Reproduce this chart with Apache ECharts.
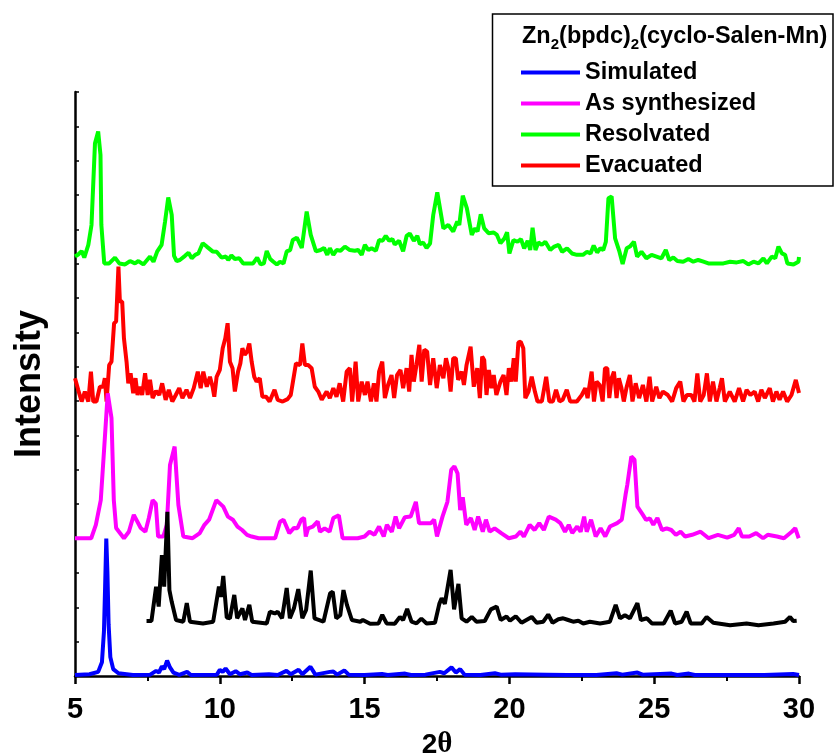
<!DOCTYPE html>
<html>
<head>
<meta charset="utf-8">
<title>PXRD Zn2(bpdc)2(cyclo-Salen-Mn)</title>
<script src="https://cdn.jsdelivr.net/npm/echarts@6.0.0/dist/echarts.min.js"></script>
<style>
  html, body { margin: 0; padding: 0; background: #fff; }
  #main { width: 835px; height: 755px; }
</style>
</head>
<body>
<div id="main"></div>
<script>
// 2theta vs stacked intensity (arbitrary units, curves offset)
var xTicks = [5, 10, 15, 20, 25, 30];
var legendNames = ['Simulated', 'As synthesized', 'Resolvated', 'Evacuated'];

var simulated = [[5.0,0.03],[5.5,0.05],[5.8,0.12],[5.93,0.4],[6.0,1.3],[6.04,2.6],[6.08,4.0],[6.12,3.0],[6.16,1.5],[6.22,0.55],[6.32,0.2],[6.5,0.08],[7.0,0.03],[7.6,0.04],[7.8,0.15],[7.9,0.1],[8.0,0.28],[8.08,0.2],[8.18,0.45],[8.28,0.25],[8.4,0.1],[8.6,0.03],[8.87,0.12],[9.0,0.03],[9.9,0.04],[10.0,0.18],[10.1,0.12],[10.2,0.22],[10.35,0.05],[10.55,0.14],[10.7,0.05],[10.95,0.1],[11.1,0.03],[11.7,0.05],[12.0,0.03],[12.3,0.15],[12.45,0.05],[12.72,0.18],[12.85,0.05],[13.13,0.27],[13.3,0.04],[13.8,0.12],[13.92,0.13],[14.05,0.04],[14.3,0.16],[14.45,0.04],[15.0,0.03],[15.6,0.06],[15.8,0.03],[16.4,0.07],[16.6,0.03],[17.1,0.04],[17.6,0.12],[17.75,0.08],[18.0,0.25],[18.15,0.1],[18.3,0.2],[18.45,0.04],[19.0,0.03],[19.5,0.08],[19.7,0.04],[20.2,0.05],[21.3,0.04],[22.0,0.03],[23.0,0.03],[23.7,0.08],[23.9,0.04],[24.42,0.1],[24.6,0.04],[25.6,0.07],[25.8,0.03],[26.2,0.07],[26.4,0.03],[27.5,0.03],[28.8,0.03],[29.8,0.06],[30.0,0.03]];

// black trace (no legend entry)
var reference = [[7.47,1.60],[7.64,1.60],[7.80,2.60],[7.89,2.02],[8.0,3.52],[8.08,2.60],[8.19,4.78],[8.26,2.50],[8.34,2.16],[8.49,1.63],[8.74,1.58],[8.86,2.12],[8.97,1.58],[9.42,1.53],[9.77,1.58],[9.97,2.60],[10.04,2.30],[10.12,2.91],[10.24,1.70],[10.35,1.68],[10.5,2.36],[10.6,1.68],[10.78,1.97],[10.87,1.63],[11.02,2.07],[11.12,1.58],[11.62,1.53],[11.73,1.87],[11.9,1.82],[12.0,1.87],[12.15,1.68],[12.31,2.56],[12.42,1.68],[12.56,1.97],[12.71,2.53],[12.85,1.68],[12.98,1.92],[13.14,3.07],[13.27,1.68],[13.58,1.58],[13.81,2.41],[13.9,2.45],[14.02,1.68],[14.16,1.77],[14.27,2.50],[14.39,2.07],[14.56,1.63],[14.85,1.58],[14.94,1.63],[15.19,1.52],[15.48,1.53],[15.61,1.78],[15.76,1.53],[16.04,1.52],[16.22,1.72],[16.33,1.63],[16.47,1.95],[16.62,1.58],[16.79,1.53],[16.96,1.67],[17.14,1.53],[17.43,1.55],[17.58,2.1],[17.66,2.26],[17.77,2.1],[17.97,3.09],[18.09,1.94],[18.24,2.68],[18.35,1.68],[18.52,1.58],[18.7,1.72],[18.86,1.58],[19.15,1.60],[19.36,1.94],[19.56,2.02],[19.7,1.63],[19.9,1.73],[20.02,1.61],[20.22,1.74],[20.42,1.55],[20.77,1.72],[20.94,1.55],[21.17,1.58],[21.34,1.79],[21.49,1.55],[21.69,1.65],[21.86,1.68],[22.03,1.63],[22.2,1.58],[22.38,1.61],[22.55,1.53],[22.78,1.58],[23.13,1.53],[23.47,1.58],[23.67,2.07],[23.82,1.68],[23.99,1.77],[24.16,1.68],[24.42,2.12],[24.54,1.63],[24.75,1.68],[24.92,1.53],[25.33,1.53],[25.57,1.90],[25.72,1.53],[25.95,1.58],[26.12,1.87],[26.26,1.53],[26.64,1.53],[26.81,1.72],[27.04,1.55],[27.62,1.48],[28.19,1.53],[28.6,1.48],[29.12,1.53],[29.52,1.58],[29.69,1.72],[29.8,1.6],[29.92,1.61]];

var asSynthesized = [[5.0,4.01],[5.56,4.01],[5.72,4.4],[5.89,5.12],[6.0,6.53],[6.13,8.23],[6.26,7.51],[6.34,5.12],[6.42,4.31],[6.69,4.01],[6.86,4.2],[7.03,4.69],[7.27,4.31],[7.43,4.2],[7.55,4.6],[7.68,5.12],[7.79,5.02],[7.87,4.06],[8.05,4.06],[8.17,4.4],[8.28,6.14],[8.44,6.68],[8.57,4.98],[8.74,4.06],[9.06,4.01],[9.31,4.16],[9.47,4.4],[9.63,4.55],[9.88,5.12],[10.12,4.93],[10.28,4.64],[10.45,4.55],[10.61,4.35],[10.77,4.25],[10.94,4.11],[11.1,4.06],[11.34,4.01],[11.91,4.01],[12.08,4.49],[12.2,4.55],[12.4,4.16],[12.56,4.31],[12.68,4.30],[12.81,4.55],[12.91,4.6],[12.97,4.06],[13.05,4.30],[13.21,4.35],[13.38,4.5],[13.46,4.2],[13.62,4.30],[13.79,4.2],[13.92,4.6],[14.11,4.68],[14.24,4.01],[14.76,4.01],[15.0,4.06],[15.17,4.2],[15.34,4.11],[15.5,4.35],[15.66,4.06],[15.77,4.4],[15.94,4.2],[16.07,4.64],[16.19,4.3],[16.39,4.62],[16.59,4.64],[16.77,5.07],[16.88,4.45],[17.29,4.45],[17.4,4.55],[17.5,4.06],[17.69,4.64],[17.86,5.07],[17.99,6.0],[18.1,6.1],[18.21,5.9],[18.3,4.83],[18.39,5.2],[18.51,4.4],[18.67,4.6],[18.8,4.25],[18.92,4.64],[19.08,4.2],[19.19,4.55],[19.32,4.2],[19.49,4.3],[19.73,4.15],[19.98,4.01],[20.22,4.06],[20.38,4.2],[20.5,4.06],[20.7,4.4],[20.87,4.25],[21.03,4.45],[21.19,4.25],[21.36,4.64],[21.6,4.55],[21.76,4.45],[21.92,4.2],[22.05,4.4],[22.17,4.16],[22.34,4.35],[22.46,4.2],[22.58,4.64],[22.67,4.2],[22.82,4.55],[22.98,4.06],[23.15,4.3],[23.31,4.06],[23.47,4.35],[23.72,4.45],[23.88,4.55],[24.01,5.27],[24.07,5.56],[24.21,6.39],[24.32,6.3],[24.42,4.93],[24.61,4.69],[24.72,4.54],[24.85,4.59],[24.97,4.4],[25.11,4.6],[25.27,4.25],[25.43,4.3],[25.59,4.25],[25.75,4.11],[25.91,4.2],[26.07,4.06],[26.31,4.11],[26.6,4.2],[26.88,4.01],[27.2,4.11],[27.52,4.03],[27.76,4.11],[27.92,4.3],[28.03,4.06],[28.28,4.06],[28.52,4.16],[28.76,4.01],[28.92,4.11],[29.24,4.06],[29.48,4.01],[29.75,4.2],[29.87,4.3],[29.99,4.01]];

var evacuated = [[5.0,8.67],[5.11,8.33],[5.23,7.99],[5.34,8.28],[5.46,7.99],[5.55,8.86],[5.63,7.99],[5.74,7.99],[5.86,8.42],[5.97,8.42],[6.03,8.67],[6.09,7.99],[6.18,9.05],[6.26,9.15],[6.35,10.27],[6.42,10.32],[6.5,11.92],[6.55,10.9],[6.63,10.9],[6.69,9.83],[6.78,9.15],[6.84,8.52],[6.92,8.81],[7.01,8.23],[7.09,8.67],[7.16,8.18],[7.24,8.42],[7.32,8.18],[7.42,8.81],[7.51,8.18],[7.59,8.62],[7.68,8.09],[7.8,8.30],[7.91,8.18],[8.01,8.52],[8.13,8.04],[8.24,8.33],[8.36,7.99],[8.48,8.18],[8.6,8.38],[8.71,8.09],[8.85,8.33],[8.97,8.09],[9.1,8.38],[9.24,8.86],[9.34,8.38],[9.43,8.86],[9.55,8.42],[9.66,8.71],[9.75,8.42],[9.81,8.13],[9.89,8.71],[10.0,8.91],[10.1,9.54],[10.19,9.83],[10.27,10.27],[10.35,9.15],[10.44,8.96],[10.52,8.28],[10.63,8.86],[10.71,9.1],[10.78,9.54],[10.86,9.35],[10.94,9.44],[11.02,9.68],[11.1,9.15],[11.19,8.71],[11.27,8.57],[11.38,8.67],[11.47,8.13],[11.6,8.13],[11.72,7.99],[11.89,8.33],[12.0,8.04],[12.17,7.99],[12.34,8.06],[12.45,8.18],[12.63,9.1],[12.77,9.05],[12.85,9.68],[12.94,9.05],[13.05,9.05],[13.17,8.96],[13.28,8.42],[13.4,8.28],[13.52,8.04],[13.69,8.28],[13.8,8.09],[13.92,8.38],[14.03,8.13],[14.14,8.52],[14.26,7.99],[14.38,8.86],[14.49,8.96],[14.57,7.99],[14.69,9.15],[14.78,7.99],[14.9,8.57],[15.01,8.18],[15.1,8.57],[15.22,7.99],[15.32,8.52],[15.41,7.99],[15.5,8.86],[15.61,9.15],[15.7,8.09],[15.81,8.47],[15.93,8.76],[16.02,8.09],[16.12,8.76],[16.24,8.91],[16.33,8.38],[16.45,8.96],[16.54,8.28],[16.62,9.35],[16.7,8.57],[16.79,9.05],[16.89,9.64],[16.97,8.57],[17.06,9.5],[17.16,9.44],[17.26,8.47],[17.37,9.25],[17.49,8.38],[17.6,9.05],[17.72,8.67],[17.81,9.25],[17.89,8.96],[17.97,8.28],[18.06,9.25],[18.15,9.25],[18.23,8.62],[18.35,8.86],[18.43,8.47],[18.52,9.05],[18.66,9.59],[18.77,8.42],[18.89,8.96],[18.98,8.09],[19.06,9.3],[19.13,9.2],[19.21,8.18],[19.29,8.91],[19.38,8.38],[19.46,8.76],[19.55,8.18],[19.69,8.57],[19.8,8.76],[19.9,8.18],[19.98,8.96],[20.07,8.57],[20.15,9.25],[20.22,8.57],[20.31,9.71],[20.39,9.73],[20.48,9.54],[20.55,8.09],[20.66,8.28],[20.77,8.71],[20.88,8.28],[20.97,7.99],[21.12,7.99],[21.27,8.71],[21.38,7.99],[21.5,7.99],[21.61,8.33],[21.73,7.99],[21.84,8.04],[21.98,8.33],[22.1,7.99],[22.33,7.99],[22.5,8.18],[22.62,8.38],[22.7,8.09],[22.84,8.86],[22.92,7.99],[23.01,8.57],[23.12,8.47],[23.22,7.99],[23.3,8.96],[23.38,8.96],[23.45,8.09],[23.53,8.67],[23.61,8.86],[23.7,8.09],[23.78,8.67],[23.87,8.38],[23.95,7.99],[24.04,8.38],[24.16,8.76],[24.25,7.99],[24.36,8.52],[24.48,8.09],[24.61,8.47],[24.73,7.99],[24.84,8.71],[24.93,7.99],[25.07,8.42],[25.18,8.09],[25.3,8.28],[25.47,8.18],[25.62,7.99],[25.76,8.38],[25.9,8.57],[26.01,7.99],[26.13,8.18],[26.28,8.18],[26.39,7.99],[26.49,8.81],[26.59,7.99],[26.71,8.18],[26.82,8.81],[26.92,7.99],[27.03,8.57],[27.15,7.99],[27.26,8.38],[27.34,8.67],[27.44,7.99],[27.61,8.28],[27.78,7.99],[27.93,8.38],[28.07,7.99],[28.19,8.33],[28.32,8.18],[28.47,8.28],[28.59,7.99],[28.7,8.33],[28.82,8.09],[28.99,8.38],[29.1,7.99],[29.22,8.28],[29.33,8.04],[29.45,8.28],[29.59,7.99],[29.74,8.18],[29.89,8.62],[30.0,8.24]];

var resolvated = [[5.0,12.21],[5.11,12.27],[5.23,12.37],[5.32,12.18],[5.46,12.55],[5.57,13.13],[5.69,15.51],[5.8,15.85],[5.88,15.17],[5.91,13.13],[6.01,12.01],[6.18,12.01],[6.38,12.18],[6.53,12.01],[6.73,11.98],[6.9,12.08],[7.07,12.01],[7.19,12.08],[7.36,11.98],[7.59,12.21],[7.71,12.06],[7.84,12.36],[7.99,12.55],[8.11,13.23],[8.22,13.93],[8.34,13.42],[8.42,12.23],[8.51,12.08],[8.62,12.11],[8.8,12.23],[8.92,12.32],[9.03,12.16],[9.15,12.26],[9.26,12.30],[9.41,12.6],[9.55,12.5],[9.75,12.36],[9.89,12.35],[10.06,12.18],[10.21,12.21],[10.29,12.11],[10.4,12.24],[10.52,12.14],[10.67,12.16],[10.81,12.01],[11.15,12.01],[11.29,12.18],[11.41,11.98],[11.52,12.01],[11.62,12.37],[11.74,12.14],[11.85,12.06],[11.97,11.98],[12.08,12.06],[12.2,12.01],[12.31,12.36],[12.43,12.40],[12.52,12.69],[12.66,12.76],[12.83,12.46],[13.0,13.52],[13.14,12.84],[13.32,12.36],[13.48,12.40],[13.6,12.46],[13.71,12.26],[13.8,12.45],[13.92,12.26],[14.03,12.40],[14.17,12.38],[14.32,12.5],[14.49,12.40],[14.66,12.38],[14.78,12.40],[14.9,12.26],[15.01,12.55],[15.13,12.40],[15.24,12.45],[15.39,12.38],[15.5,12.69],[15.62,12.67],[15.73,12.81],[15.85,12.67],[15.96,12.72],[16.04,12.56],[16.19,12.67],[16.33,12.36],[16.45,12.81],[16.56,12.88],[16.7,12.67],[16.82,12.81],[16.91,12.57],[17.02,12.62],[17.14,12.46],[17.26,12.59],[17.37,13.42],[17.51,14.08],[17.72,13.03],[17.89,13.13],[18.06,12.94],[18.2,13.23],[18.27,13.13],[18.39,13.98],[18.53,13.62],[18.7,12.84],[18.81,13.03],[18.9,12.94],[19.01,13.44],[19.13,13.03],[19.28,12.89],[19.46,12.91],[19.57,12.84],[19.69,12.6],[19.83,12.74],[19.92,12.92],[20.0,12.3],[20.14,12.69],[20.28,12.64],[20.4,12.72],[20.51,12.45],[20.63,12.67],[20.72,12.4],[20.8,13.05],[20.9,12.4],[21.0,12.62],[21.12,12.55],[21.24,12.64],[21.41,12.40],[21.55,12.50],[21.7,12.55],[21.82,12.35],[21.99,12.45],[22.16,12.30],[22.33,12.26],[22.54,12.26],[22.68,12.35],[22.8,12.30],[22.91,12.53],[23.03,12.33],[23.14,12.45],[23.24,12.40],[23.33,12.64],[23.42,13.91],[23.53,13.96],[23.65,12.74],[23.8,12.35],[23.91,11.99],[24.05,12.45],[24.16,12.50],[24.3,12.64],[24.41,12.21],[24.56,12.35],[24.73,12.16],[24.91,12.26],[25.08,12.21],[25.25,12.16],[25.4,12.40],[25.52,12.11],[25.66,12.18],[25.8,12.08],[26.0,12.06],[26.18,12.14],[26.35,12.06],[26.52,12.11],[26.7,12.06],[26.87,12.01],[27.16,12.01],[27.39,12.01],[27.62,12.06],[27.85,12.04],[28.08,12.08],[28.25,11.98],[28.43,12.06],[28.6,12.01],[28.77,12.16],[28.89,12.01],[29.06,12.21],[29.18,12.16],[29.29,12.5],[29.41,12.30],[29.52,12.26],[29.6,12.01],[29.81,11.98],[29.98,12.06],[30.0,12.2]];

var chart = echarts.init(document.getElementById('main'), null, { renderer: 'canvas' });

var fontSans = '"Liberation Sans", Arial, sans-serif';

function lineSeries(name, data, color) {
  return {
    name: name,
    type: 'line',
    data: data,
    symbol: 'none',
    showSymbol: false,
    lineStyle: { color: color, width: 4 },
    itemStyle: { color: color },
    emphasis: { disabled: true },
    silent: true
  };
}

var option = {
  animation: false,
  backgroundColor: '#fff',
  grid: { left: 75, right: 36, top: 92, bottom: 79, containLabel: false, outerBoundsMode: 'none' },
  xAxis: {
    type: 'value',
    min: xTicks[0],
    max: xTicks[xTicks.length - 1],
    interval: 5,
    name: '{a|2}{b|θ}',
    nameLocation: 'middle',
    nameGap: 54,
    nameTextStyle: {
      rich: {
        a: { fontFamily: fontSans, fontWeight: 'bold', fontSize: 28, color: '#000', lineHeight: 30 },
        b: { fontFamily: '"Liberation Serif", "DejaVu Serif", serif', fontWeight: 'bold', fontSize: 29, color: '#000', lineHeight: 30 }
      }
    },
    axisLine: { lineStyle: { color: '#000', width: 2.5 } },
    axisTick: { inside: false, length: 8, lineStyle: { color: '#000', width: 2.5 } },
    minorTick: { show: true, splitNumber: 2, length: 5, lineStyle: { color: '#000', width: 2 } },
    axisLabel: { fontFamily: fontSans, fontWeight: 'bold', fontSize: 29, color: '#000', margin: 19 },
    splitLine: { show: false }
  },
  yAxis: {
    type: 'value',
    min: 0,
    max: 17,
    interval: 1,
    name: 'Intensity',
    nameLocation: 'middle',
    nameRotate: 90,
    nameGap: 27,
    nameTextStyle: { fontFamily: fontSans, fontWeight: 'bold', fontSize: 36, color: '#000' },
    axisLine: { show: true, lineStyle: { color: '#000', width: 2.5 } },
    axisTick: { show: true, inside: true, length: 4, lineStyle: { color: '#000', width: 1.5 } },
    axisLabel: { show: false },
    splitLine: { show: false }
  },
  legend: {
    orient: 'vertical',
    left: 521,
    top: 60.5,
    padding: 0,
    itemWidth: 59,
    itemHeight: 4,
    itemGap: 7,
    icon: 'rect',
    data: legendNames,
    selectedMode: false,
    textStyle: { fontFamily: fontSans, fontWeight: 'bold', fontSize: 23.5, color: '#000', lineHeight: 24 }
  },
  graphic: [
    {
      type: 'rect',
      shape: { x: 492.5, y: 14, width: 340.5, height: 172 },
      style: { fill: 'none', stroke: '#000', lineWidth: 1.5 },
      z: 10
    },
    {
      type: 'text',
      x: 522,
      y: 37,
      z: 10,
      style: {
        text: '{a|Zn}{s|2}{a|(bpdc)}{s|2}{a|(cyclo-Salen-Mn)}',
        verticalAlign: 'middle',
        align: 'left',
        rich: {
          a: { fontFamily: fontSans, fontWeight: 'bold', fontSize: 23.5, lineHeight: 31, fill: '#000' },
          s: { fontFamily: fontSans, fontWeight: 'bold', fontSize: 15, lineHeight: 13, verticalAlign: 'bottom', fill: '#000' }
        }
      }
    }
  ],
  series: [
    lineSeries('Resolvated', resolvated, '#00ff00'),
    lineSeries('Evacuated', evacuated, '#ff0000'),
    lineSeries('Simulated', simulated, '#0000ff'),
    lineSeries('As synthesized', asSynthesized, '#ff00ff'),
    lineSeries('', reference, '#000000')
  ]
};

chart.setOption(option);
</script>
</body>
</html>
